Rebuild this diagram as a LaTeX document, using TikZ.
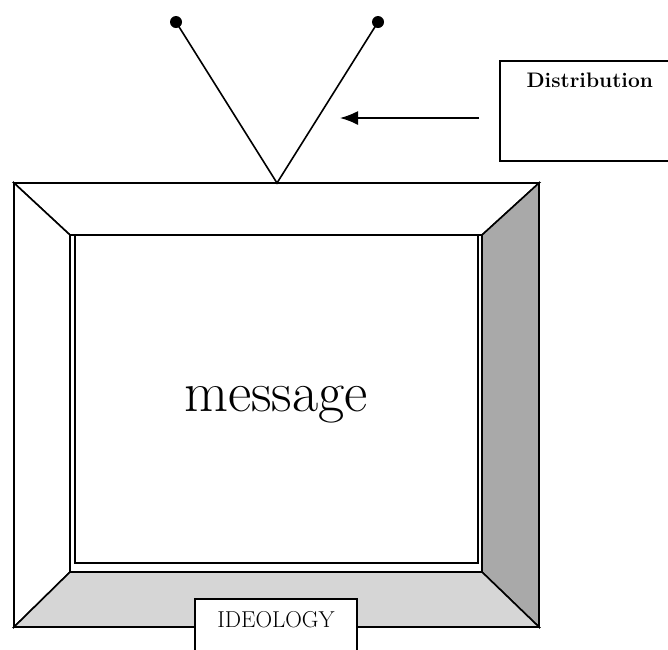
\documentclass[tikz,border=0pt]{standalone}
\usetikzlibrary{positioning,arrows.meta}
\definecolor{sidegray}{HTML}{A9A9A9}
\definecolor{basegray}{HTML}{D6D6D6}
\begin{document}
\begin{tikzpicture}[x=1pt,y=-1pt,line width=1.6pt,line join=miter]
        \useasboundingbox (0,0) rectangle (668,649);
        \clip (0,0) rectangle (668,649);
        % frame corners
        \coordinate (otl) at (14,183);
        \coordinate (otr) at (539,183);
        \coordinate (obr) at (539,627);
        \coordinate (obl) at (14,627);
        \coordinate (itl) at (70,235);
        \coordinate (itr) at (482,235);
        \coordinate (ibr) at (482,572);
        \coordinate (ibl) at (70,572);
        
        \filldraw[fill=white] (otl) -- (otr) -- (itr) -- (itl) -- cycle;
        \filldraw[fill=white] (otl) -- (itl) -- (ibl) -- (obl) -- cycle;
        \filldraw[fill=sidegray] (otr) -- (obr) -- (ibr) -- (itr) -- cycle;
        \filldraw[fill=basegray] (obl) -- (ibl) -- (ibr) -- (obr) -- cycle;
        \draw (75,235) rectangle (478,563);
        
        \node (msg) at (276,405) {\fontsize{57}{66}\selectfont message};
        
        % antenna
        \coordinate (apex) at (277,183);
        \coordinate (ltip) at (176,22);
        \coordinate (rtip) at (378,22);
        \draw (ltip) -- (apex) -- (rtip);
        \fill (ltip) circle (6);
        \fill (rtip) circle (6);
        
        \node[draw,minimum width=180pt,minimum height=100pt,anchor=north west] (distbox) at (499,60) {};
        \node[below=9pt of distbox.north] (dist) {\fontsize{21}{24}\selectfont\bfseries Distribution};
        \coordinate (arrowtail) at (479,118);
        \coordinate (arrowtip) at (340,118);
        \draw[-{Latex[length=18pt,width=14pt]}] (arrowtail) -- (arrowtip);
        
        \node[draw,fill=white,minimum width=162pt,minimum height=70pt,anchor=north] (ideobox) at (276,598) {};
        \node[below=9pt of ideobox.north] (ideo) {\fontsize{23}{26}\selectfont IDEOLOGY};
    \end{tikzpicture}
\end{document}
